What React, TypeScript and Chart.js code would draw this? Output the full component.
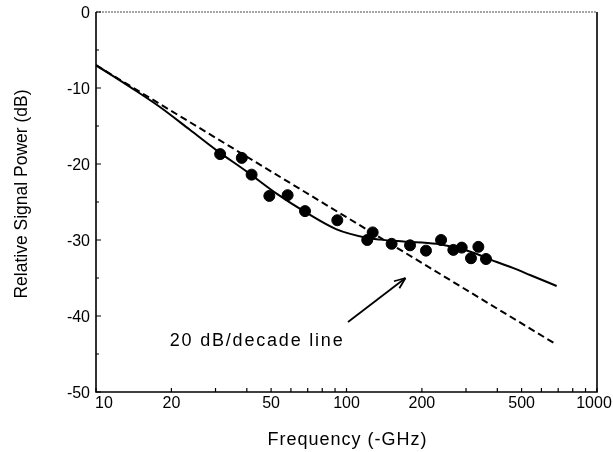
import React, { useEffect, useRef } from "react";
import { Chart, registerables } from "chart.js";

Chart.register(...registerables);

// Measured data points (frequency GHz, relative power dB)
const pointFreq = [31.3, 38.2, 41.8, 49.2, 58.2, 68.3, 91.9, 121, 127.2, 151.4, 179.3, 207.6, 238.5, 267, 288.4, 314, 336, 360.5];
const pointPower = [-18.7, -19.2, -21.4, -24.2, -24.1, -26.2, -27.4, -30.0, -29.0, -30.5, -30.7, -31.4, -30.0, -31.3, -31.0, -32.4, -30.9, -32.5];

// Fitted solid curve
const curveFreq = [10, 14.1, 18, 23.7, 30.3, 40, 52.6, 68.3, 91.3, 120, 136, 168.7, 228.6, 260, 293, 341, 398, 464, 540, 690];
const curvePower = [-7, -10.15, -12.5, -15.5, -18.2, -21.0, -23.9, -26.3, -28.6, -29.7, -29.95, -30.2, -30.5, -30.85, -31.25, -32.0, -32.9, -33.7, -34.6, -36.05];

// 20 dB/decade reference line
const refFreq = [10, 688];
const refPower = [-7, -43.75];

// Axis ticks
const xTickValues = [10, 20, 50, 100, 200, 500, 1000];
const xMinorTicks = [10, 20, 30, 40, 50, 60, 70, 80, 90, 100, 200, 300, 400, 500, 600, 700, 800, 900, 1000];
const yTickValues = [0, -10, -20, -30, -40, -50];
const yMinorTicks = [-5, -15, -25, -35, -45];

// Texts
const xTitle = "Frequency (-GHz)";
const yTitle = "Relative Signal Power (dB)";
const annotationText = "20 dB/decade line";
const annotationPos = { x: 19.7, y: -43.3 };
const arrowFrom = { x: 101.4, y: -40.8 };
const arrowTo = { x: 172, y: -35.0 };

const FONT = "'Liberation Sans', Arial, Helvetica, sans-serif";

const framePlugin = {
  id: "frame",
  afterDraw(chart: any) {
    const { ctx, chartArea: a, scales } = chart;
    const xs = scales.x;
    const ys = scales.y;
    ctx.save();
    // top border dotted grey
    ctx.strokeStyle = "#888";
    ctx.lineWidth = 1.5;
    ctx.setLineDash([2, 1]);
    ctx.beginPath();
    ctx.moveTo(a.left, a.top);
    ctx.lineTo(a.right, a.top);
    ctx.stroke();
    ctx.setLineDash([]);
    // other borders
    ctx.strokeStyle = "#000";
    ctx.lineWidth = 1.6;
    ctx.beginPath();
    ctx.moveTo(a.left, a.top);
    ctx.lineTo(a.left, a.bottom);
    ctx.lineTo(a.right, a.bottom);
    ctx.lineTo(a.right, a.top);
    ctx.stroke();
    // inward ticks
    ctx.lineWidth = 1.2;
    ctx.beginPath();
    for (const v of yTickValues) {
      const y = ys.getPixelForValue(v);
      ctx.moveTo(a.left, y);
      ctx.lineTo(a.left + 5, y);
    }
    for (const v of yMinorTicks) {
      const y = ys.getPixelForValue(v);
      ctx.moveTo(a.left, y);
      ctx.lineTo(a.left + 3, y);
    }
    for (const v of xMinorTicks) {
      const x = xs.getPixelForValue(v);
      ctx.moveTo(x, a.bottom);
      ctx.lineTo(x, a.bottom - 4);
    }
    ctx.stroke();

    ctx.fillStyle = "#000";
    // y tick labels
    ctx.font = `16px ${FONT}`;
    ctx.textAlign = "right";
    ctx.textBaseline = "middle";
    for (const v of yTickValues) {
      ctx.fillText(String(v), a.left - 6, ys.getPixelForValue(v) + 2);
    }
    // x tick labels
    ctx.textBaseline = "middle";
    xTickValues.forEach((v, i) => {
      const x = xs.getPixelForValue(v);
      ctx.textAlign = i === 0 ? "left" : "center";
      ctx.fillText(String(v), i === 0 ? x - 1 : i === xTickValues.length - 1 ? x - 3 : x, a.bottom + 12);
    });
    // axis titles
    ctx.font = `18px ${FONT}`;
    (ctx as any).letterSpacing = "1px";
    ctx.textAlign = "center";
    ctx.fillText(xTitle, (a.left + a.right) / 2 + 1, a.bottom + 48);
    (ctx as any).letterSpacing = "0px";
    ctx.save();
    ctx.font = `17.5px ${FONT}`;
    ctx.translate(22, (a.top + a.bottom) / 2 - 8);
    ctx.rotate(-Math.PI / 2);
    ctx.fillText(yTitle, 0, 0);
    ctx.restore();
    // annotation text
    ctx.font = `18px ${FONT}`;
    (ctx as any).letterSpacing = "1.8px";
    ctx.textAlign = "left";
    ctx.textBaseline = "middle";
    ctx.fillText(annotationText, xs.getPixelForValue(annotationPos.x), ys.getPixelForValue(annotationPos.y));
    (ctx as any).letterSpacing = "0px";
    // arrow
    const x1 = xs.getPixelForValue(arrowFrom.x);
    const y1 = ys.getPixelForValue(arrowFrom.y);
    const x2 = xs.getPixelForValue(arrowTo.x);
    const y2 = ys.getPixelForValue(arrowTo.y);
    ctx.lineWidth = 1.8;
    ctx.beginPath();
    ctx.moveTo(x1, y1);
    ctx.lineTo(x2, y2);
    ctx.stroke();
    const ang = Math.atan2(y2 - y1, x2 - x1);
    const hl = 12;
    ctx.beginPath();
    ctx.moveTo(x2, y2);
    ctx.lineTo(x2 - hl * Math.cos(ang - 0.38), y2 - hl * Math.sin(ang - 0.38));
    ctx.moveTo(x2, y2);
    ctx.lineTo(x2 - hl * Math.cos(ang + 0.38), y2 - hl * Math.sin(ang + 0.38));
    ctx.stroke();
    ctx.restore();
  },
};

export default function App() {
  const ref = useRef<HTMLCanvasElement>(null);
  useEffect(() => {
    document.body.style.margin = "0";
    const canvas = ref.current;
    if (!canvas) return;
    const chart = new Chart(canvas, {
      type: "scatter",
      data: {
        datasets: [
          {
            data: pointFreq.map((x, i) => ({ x, y: pointPower[i] })),
            backgroundColor: "#000",
            borderColor: "#000",
            pointRadius: 5.5,
            showLine: false,
          },
          {
            data: curveFreq.map((x, i) => ({ x, y: curvePower[i] })),
            borderColor: "#000",
            borderWidth: 2,
            pointRadius: 0,
            showLine: true,
            cubicInterpolationMode: "monotone",
          },
          {
            data: refFreq.map((x, i) => ({ x, y: refPower[i] })),
            borderColor: "#000",
            borderWidth: 2,
            borderDash: [7, 4],
            pointRadius: 0,
            showLine: true,
          },
        ],
      } as any,
      options: {
        animation: false,
        responsive: false,
        layout: { padding: { top: 12, right: 16, left: 0, bottom: 0 } },
        plugins: { legend: { display: false }, tooltip: { enabled: false } },
        scales: {
          x: {
            type: "logarithmic",
            min: 10,
            max: 1000,
            afterFit: (s: any) => {
              s.height = 60;
            },
            ticks: { display: false },
            grid: { display: false, drawTicks: false },
            border: { display: false },
          },
          y: {
            type: "linear",
            min: -50,
            max: 0,
            afterFit: (s: any) => {
              s.width = 96;
            },
            ticks: { display: false },
            grid: { display: false, drawTicks: false },
            border: { display: false },
          },
        },
      } as any,
      plugins: [framePlugin],
    });
    return () => chart.destroy();
  }, []);
  return <canvas ref={ref} width={613} height={452} style={{ display: "block" }} />;
}
